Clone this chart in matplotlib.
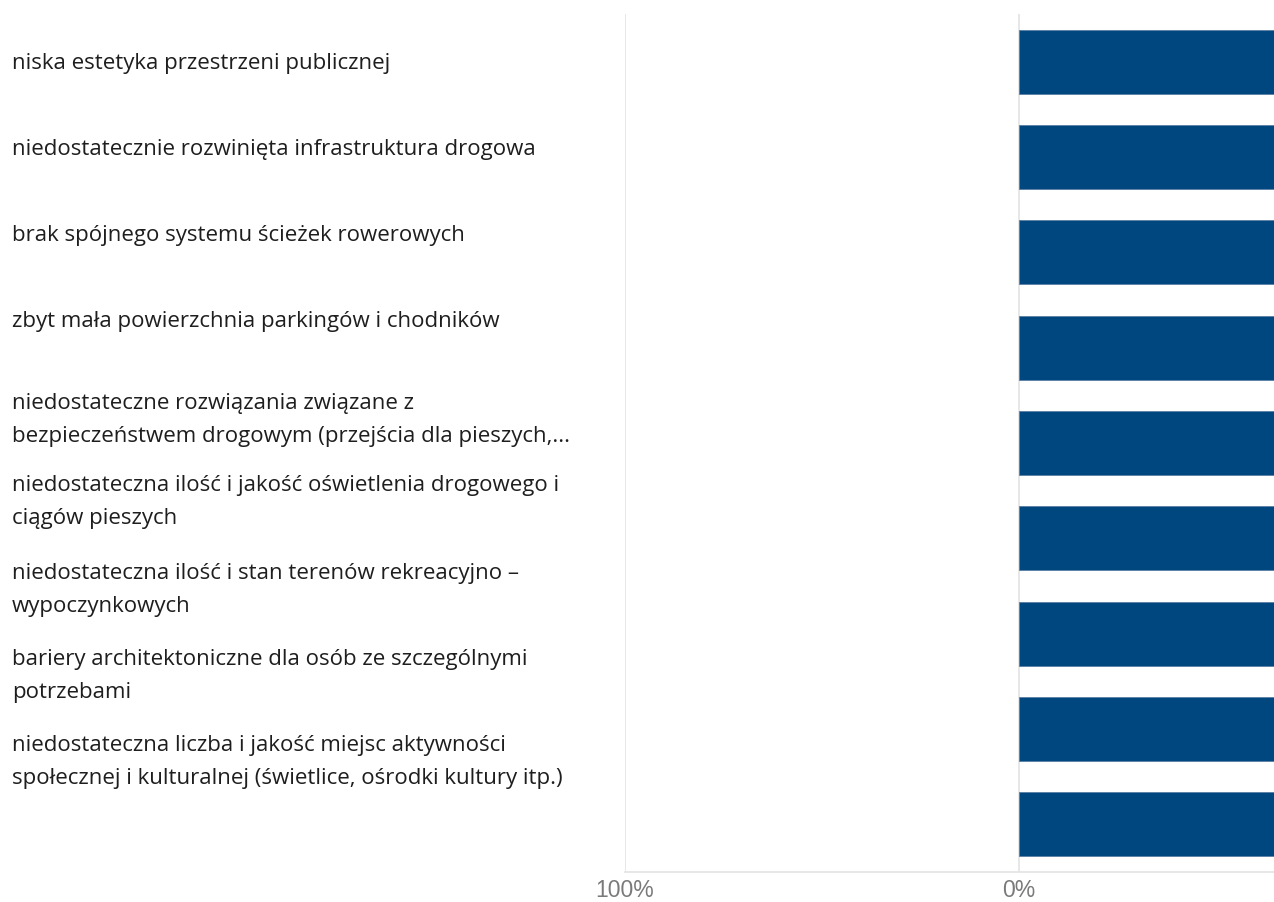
import matplotlib.pyplot as plt
import numpy as np

# categories (top to bottom) as wrapped in the source
labels = [
    "niska estetyka przestrzeni publicznej",
    "niedostatecznie rozwinięta infrastruktura drogowa",
    "brak spójnego systemu ścieżek rowerowych",
    "zbyt mała powierzchnia parkingów i chodników",
    "niedostateczne rozwiązania związane z\nbezpieczeństwem drogowym (przejścia dla pieszych,...",
    "niedostateczna ilość i jakość oświetlenia drogowego i\nciągów pieszych",
    "niedostateczna ilość i stan terenów rekreacyjno –\nwypoczynkowych",
    "bariery architektoniczne dla osób ze szczególnymi\npotrzebami",
    "niedostateczna liczba i jakość miejsc aktywności\nspołecznej i kulturalnej (świetlice, ośrodki kultury itp.)",
]
# bar lengths in percent (bars run past the visible right edge)
values = [100, 100, 100, 100, 100, 100, 100, 100, 100]
tick_pos = [-100, 0]
tick_labels = ["100%", "0%"]

W, H = 1274, 902
# label column is laid out on its own, not aligned with the bars
label_y = [63, 149, 235, 322, 420, 502, 590, 676, 762]

fig = plt.figure(figsize=(W / 100, H / 100), dpi=100)
ax = fig.add_axes([625 / W, (H - 872) / H, 1 - 625 / W, (872 - 14) / H])

y = np.arange(len(labels))
ax.barh(y, values, height=0.67, color="#00467f", edgecolor="#5a7fa3", linewidth=0.6, zorder=3)

ax.set_xlim(-100, 64.7)
ax.set_ylim(len(labels) - 0.5, -0.5)
ax.set_yticks([])
ax.set_xticks(tick_pos)
ax.set_xticklabels(tick_labels, fontsize=16.5, color="#7a7a7a", family="Liberation Sans")
ax.tick_params(axis="x", length=0, pad=5)
ax.grid(axis="x", color="#e3e3e3", linewidth=1.2, zorder=0)
for s in ["top", "right", "left"]:
    ax.spines[s].set_visible(False)
ax.spines["bottom"].set_color("#e3e3e3")
ax.spines["bottom"].set_linewidth(1.2)

for lab, yc in zip(labels, label_y):
    fig.text(12 / W, 1 - yc / H, lab, ha="left", va="center", fontsize=16,
             family="Open Sans", color="#1e1e1e", linespacing=1.72)

fig.savefig("out.png", dpi=100, facecolor="white")
